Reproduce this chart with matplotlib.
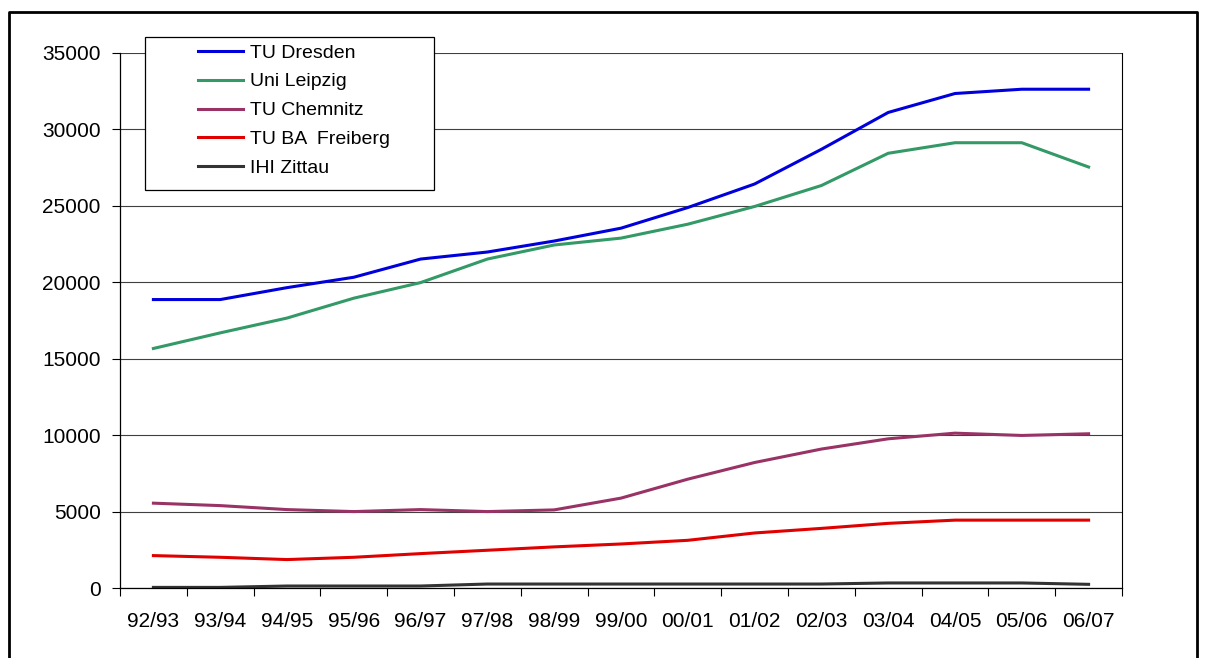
import numpy as np
import matplotlib
matplotlib.use("Agg")
import matplotlib.pyplot as plt
from matplotlib.lines import Line2D
from matplotlib.patches import Rectangle

plt.rcParams['font.family'] = ['Liberation Sans', 'DejaVu Sans']

semesters = ['92/93', '93/94', '94/95', '95/96', '96/97', '97/98', '98/99', '99/00',
             '00/01', '01/02', '02/03', '03/04', '04/05', '05/06', '06/07']

dresden = [18870, 18870, 19650, 20330, 21520, 21980, 22700, 23540,
           24890, 26430, 28700, 31110, 32350, 32630, 32630]
leipzig = [15670, 16690, 17660, 18960, 19980, 21520, 22440, 22890,
           23800, 24960, 26330, 28440, 29130, 29130, 27540]
chemnitz = [5550, 5390, 5130, 5000, 5130, 5000, 5110, 5880,
            7120, 8210, 9090, 9760, 10130, 9980, 10090]
freiberg = [2120, 2010, 1860, 2010, 2250, 2470, 2690, 2880,
            3120, 3600, 3900, 4230, 4440, 4440, 4440]
zittau = [40, 40, 130, 130, 130, 260, 260, 260,
          260, 260, 260, 330, 330, 330, 240]

names = ['TU Dresden', 'Uni Leipzig', 'TU Chemnitz', 'TU BA  Freiberg', 'IHI Zittau']
colors = ['#0000DD', '#339966', '#993366', '#E00000', '#333333']
series = [dresden, leipzig, chemnitz, freiberg, zittau]

W, H = 1207, 658
fig = plt.figure(figsize=(W / 100, H / 100), dpi=100)
ax = fig.add_axes([120 / W, 1 - 588 / H, 1002 / W, 535 / H])

x = np.arange(len(semesters))
handles = []
for vals, c, n in zip(series, colors, names):
    h, = ax.plot(x, vals, color=c, lw=2.2, label=n, solid_joinstyle='round')
    handles.append(h)

ax.set_xlim(-0.5, len(semesters) - 0.5)
ax.set_ylim(0, 35000)
ax.set_yticks(np.arange(0, 35001, 5000))
ax.yaxis.grid(True, color='#404040', lw=0.8)
ax.set_axisbelow(True)

ax.set_xticks(x)
ax.set_xticklabels(semesters)
ax.set_xticks(np.arange(-0.5, len(semesters), 1), minor=True)
ax.tick_params(axis='x', which='major', length=0, pad=17, labelsize=15)
ax.tick_params(axis='x', which='minor', length=6, width=0.8, direction='out')
ax.tick_params(axis='y', length=6, width=0.8, direction='out', pad=8, labelsize=15)

for s in ['left', 'bottom']:
    ax.spines[s].set_color('black')
    ax.spines[s].set_linewidth(0.9)
ax.spines['top'].set_visible(False)
ax.spines['right'].set_color('black')
ax.spines['right'].set_linewidth(0.8)

# legend box
fig.patches.append(Rectangle((145 / W, 1 - 190 / H), 289 / W, 153 / H,
                             transform=fig.transFigure, facecolor='white',
                             edgecolor='black', lw=0.9, zorder=5))
leg = fig.legend(handles=handles, labels=names, loc='upper left',
                 bbox_to_anchor=(198 / W, 1 - 44 / H), frameon=False,
                 fontsize=14, handlelength=2.3, handletextpad=0.35,
                 labelspacing=0.58, borderpad=0, borderaxespad=0)
leg.set_zorder(6)

# outer frame
fig.add_artist(Line2D([9 / W, 9 / W, 1197 / W, 1197 / W], [0, 1 - 12 / H, 1 - 12 / H, 0],
                      transform=fig.transFigure, color='black', lw=2))

fig.savefig('out.png', dpi=100)
